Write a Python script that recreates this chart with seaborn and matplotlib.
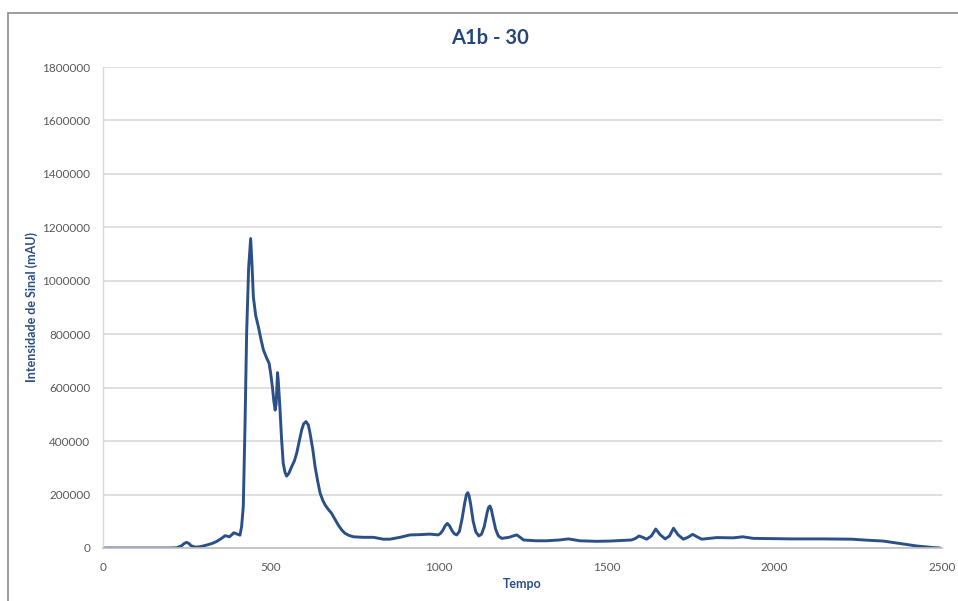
import matplotlib
matplotlib.use("Agg")
import matplotlib.pyplot as plt
import seaborn as sns
import pandas as pd
from matplotlib.patches import Rectangle

tempo = [0, 100, 200, 220, 235, 242, 249, 256, 262, 275, 290, 309, 325, 338, 352, 364, 377, 390,
         400, 408, 413, 418, 423, 428, 434, 440, 444, 448, 455, 463, 470, 478, 488, 495, 500, 505,
         509, 513, 516, 518, 520, 522, 525, 527, 532, 537, 542, 547, 554, 562, 570, 577, 585, 592,
         598, 605, 612, 617, 625, 632, 640, 647, 655, 662, 671, 681, 691, 701, 711, 721, 733, 746,
         775, 806, 835, 855, 885, 915, 945, 974, 999, 1006, 1012, 1019, 1026, 1033, 1040, 1047,
         1054, 1062, 1070, 1078, 1083, 1087, 1091, 1096, 1103, 1111, 1120, 1128, 1136, 1145, 1149,
         1153, 1157, 1162, 1170, 1178, 1188, 1210, 1222, 1233, 1243, 1253, 1290, 1322, 1360, 1387,
         1421, 1470, 1511, 1575, 1587, 1597, 1608, 1620, 1634, 1647, 1660, 1675, 1688, 1700, 1713,
         1729, 1743, 1757, 1770, 1784, 1829, 1878, 1906, 1938, 2000, 2057, 2150, 2230, 2280, 2325,
         2380, 2425, 2470, 2494]
intensidade = [0, 0, 0, 1000, 9000, 17000, 21000, 17000, 9000, 3000, 5000, 11000, 17000, 24000,
               35000, 46000, 42000, 57000, 52000, 48000, 80000, 155000, 450000, 804000, 1050000,
               1158000, 1060000, 940000, 870000, 828000, 785000, 741000, 710000, 691000, 650000,
               600000, 550000, 516000, 540000, 600000, 656000, 630000, 570000, 529000, 410000,
               317000, 285000, 269000, 280000, 304000, 325000, 354000, 400000, 442000, 465000,
               473000, 460000, 429000, 370000, 304000, 248000, 205000, 178000, 161000, 145000,
               130000, 108000, 86000, 68000, 55000, 47000, 42000, 40000, 40000, 33000, 33000,
               40000, 49000, 50000, 52000, 49000, 55000, 65000, 82000, 92000, 82000, 65000, 53000,
               49000, 62000, 110000, 170000, 200000, 207000, 195000, 160000, 100000, 60000, 45000,
               52000, 80000, 135000, 152000, 157000, 145000, 115000, 70000, 45000, 36000, 40000,
               45000, 49000, 40000, 30000, 27000, 27000, 30000, 34000, 27000, 25000, 26000, 30000,
               36000, 45000, 40000, 33000, 45000, 71000, 50000, 34000, 45000, 74000, 50000, 33000,
               40000, 51000, 42000, 33000, 39000, 38000, 42000, 36000, 35000, 34000, 34000, 33000,
               29000, 26000, 16000, 7500, 2000, 0]

y_ticks = [0, 200000, 400000, 600000, 800000, 1000000, 1200000, 1400000, 1600000, 1800000]
x_ticks = [0, 500, 1000, 1500, 2000, 2500]

df = pd.DataFrame({"Tempo": tempo, "Intensidade": intensidade})

sns.set_theme(style="white")
plt.rcParams["font.family"] = ["Lato", "DejaVu Sans"]

W, H = 958, 601
fig = plt.figure(figsize=(W / 100, H / 100), dpi=100)
fig.patch.set_facecolor("white")
ax = fig.add_axes([103 / W, 1 - 548 / H, (942 - 103) / W, (548 - 67) / H])

# chart border
fig.add_artist(Rectangle((8 / W, -0.1), 1.2, 1 - 13 / H + 0.1, transform=fig.transFigure,
                         fill=False, edgecolor="#8C8C8C", linewidth=1.2))

sns.lineplot(data=df, x="Tempo", y="Intensidade", ax=ax, color="#2B5087", linewidth=2.1,
             sort=False, estimator=None)

ax.set_xlim(0, 2500)
ax.set_ylim(0, 1800000)
ax.set_xticks(x_ticks)
ax.set_yticks(y_ticks)
ax.set_xticklabels([str(v) for v in x_ticks])
ax.set_yticklabels([str(v) for v in y_ticks])
ax.tick_params(axis="both", length=0, labelsize=8.5, colors="#595959")
ax.tick_params(axis="x", pad=10)
ax.tick_params(axis="y", pad=9)
ax.yaxis.grid(True, color="#D9D9D9", linewidth=1.2)
ax.xaxis.grid(False)
ax.set_axisbelow(True)
for s in ["top", "right"]:
    ax.spines[s].set_visible(False)
ax.spines["left"].set_color("#D9D9D9")
ax.spines["bottom"].set_color("#BFBFBF")
ax.spines["left"].set_linewidth(1.0)
ax.spines["bottom"].set_linewidth(1.2)

ax.set_xlabel("Tempo", fontsize=9, fontweight="bold", color="#2A4F82", labelpad=4)
ax.set_ylabel("Intensidade de Sinal (mAU)", fontsize=9, fontweight="bold", color="#2A4F82",
              labelpad=3)
fig.text(490 / W, 1 - 38 / H, "A1b - 30", ha="center", va="center",
         fontsize=14.5, fontweight="bold", color="#24467A")

fig.savefig("out.png", dpi=100)
